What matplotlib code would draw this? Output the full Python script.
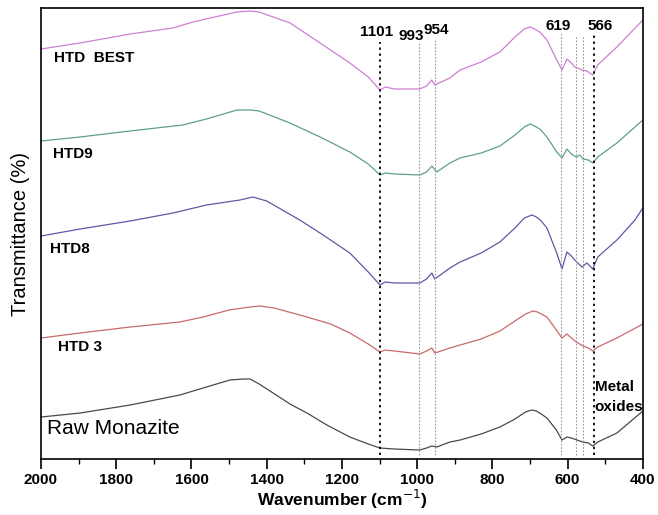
import matplotlib
matplotlib.use("Agg")
import matplotlib.pyplot as plt
from matplotlib.ticker import MultipleLocator

plt.rcParams['font.family'] = ['Liberation Sans', 'DejaVu Sans']

# FTIR spectra, arbitrary transmittance units (curves already offset)
w_best = [2000, 1896, 1763, 1649, 1596, 1479, 1444, 1420, 1338, 1258, 1179, 1130, 1099, 1085, 1060, 993, 975, 961, 953,
          913, 886, 830, 780, 740, 715, 700, 688, 674, 655, 629, 615, 602, 590, 581, 573, 562, 549, 533, 520, 469, 400]
t_best = [411, 417, 426, 432, 438, 448, 449, 448, 437, 417, 397, 383, 370, 373, 371, 371, 374, 380, 375,
          382, 390, 398, 408, 423, 431, 433, 431, 428, 420, 400, 390, 401, 397, 393, 392, 390, 389, 385, 395, 413, 440]

w_htd9 = [2000, 1896, 1763, 1623, 1560, 1479, 1444, 1420, 1338, 1258, 1179, 1130, 1099, 1085, 1060, 993, 975, 961, 948,
          913, 886, 830, 780, 740, 715, 700, 688, 674, 655, 629, 615, 602, 590, 577, 567, 559, 545, 533, 520, 469, 400]
t_htd9 = [319, 323, 329, 335, 341, 350, 350, 349, 337, 323, 308, 296, 285, 287, 286, 285, 288, 294, 288,
          297, 302, 307, 314, 325, 333, 336, 334, 331, 323, 308, 302, 311, 306, 303, 305, 301, 300, 297, 303, 317, 340]

w_htd8 = [2000, 1896, 1763, 1649, 1560, 1471, 1437, 1400, 1312, 1250, 1179, 1130, 1099, 1085, 1060, 993, 975, 961, 953,
          913, 886, 830, 780, 740, 715, 695, 683, 670, 655, 629, 615, 602, 590, 581, 573, 562, 549, 533, 520, 469, 421, 400]
t_htd8 = [224, 231, 239, 247, 255, 260, 263, 259, 240, 225, 207, 188, 175, 178, 177, 177, 181, 187, 181,
          192, 198, 207, 218, 232, 242, 245, 243, 239, 232, 207, 191, 208, 204, 200, 197, 193, 197, 191, 203, 220, 240, 252]

w_htd3 = [2000, 1896, 1763, 1631, 1569, 1500, 1444, 1418, 1380, 1293, 1230, 1179, 1130, 1099, 1086, 1060, 993, 975, 961,
          953, 913, 886, 830, 780, 740, 712, 692, 680, 665, 655, 630, 615, 602, 590, 577, 559, 545, 533, 520, 469, 400]
t_htd3 = [122, 127, 133, 138, 143, 150, 153, 154, 152, 143, 136, 127, 116, 108, 110, 109, 106, 109, 112,
          107, 112, 115, 121, 129, 139, 146, 149, 148, 145, 143, 130, 122, 126, 122, 118, 114, 112, 109, 113, 122, 136]

w_raw = [2000, 1896, 1763, 1631, 1569, 1498, 1463, 1444, 1420, 1383, 1338, 1293, 1240, 1179, 1130, 1099, 1060, 993, 975,
         961, 948, 913, 886, 830, 780, 740, 712, 695, 683, 670, 655, 630, 615, 602, 590, 575, 560, 545, 533, 520, 469, 400]
t_raw = [43, 47, 55, 65, 72, 80, 81, 81, 76, 67, 56, 47, 35, 23, 16, 12, 11, 10, 12,
         14, 13, 18, 20, 26, 33, 41, 48, 50, 49, 46, 42, 30, 20, 23, 22, 20, 18, 17, 14, 18, 27, 49]

series = [
    (w_best, t_best, "#cf7fd2"),
    (w_htd9, t_htd9, "#5f9f8f"),
    (w_htd8, t_htd8, "#5b5aa6"),
    (w_htd3, t_htd3, "#c86a6a"),
    (w_raw, t_raw, "#4a4a4a"),
]

# sample labels
sample_names = ["HTD  BEST", "HTD9", "HTD8", "HTD 3"]
sample_x = [1965, 1968, 1976, 1955]
sample_y = [402, 306, 211, 113]

# band markers
band_pos = [1098, 994, 953, 618, 578, 560, 531]
band_top = [418, 417, 420, 427, 425, 425, 425]
band_bold = [True, False, False, False, False, False, True]
peak_text = ["1101", "993", "954", "619", "566"]
peak_x = [1107, 1017, 950, 626, 514]
peak_y = [428, 424, 430, 434, 434]

fig = plt.figure(figsize=(6.58, 5.15), dpi=100)
ax = fig.add_axes([0.0623, 0.1087, 0.9147, 0.8758])

for w, t, c in series:
    ax.plot(w, t, color=c, lw=0.9)

for x, top, bold in zip(band_pos, band_top, band_bold):
    if bold:
        ax.plot([x, x], [5, top], color="black", lw=1.3, ls=(0, (1.3, 2.0)))
    else:
        ax.plot([x, x], [5, top], color="#9a9a9a", lw=0.8, ls=(0, (1.5, 1.5)))

for s, x, y in zip(peak_text, peak_x, peak_y):
    ax.text(x, y, s, fontsize=11, fontweight="bold", ha="center", va="center")

for s, x, y in zip(sample_names, sample_x, sample_y):
    ax.text(x, y, s, fontsize=11, fontweight="bold", ha="left", va="center")

ax.text(1984, 32, "Raw Monazite", fontsize=15, ha="left", va="center")
ax.text(528, 73, "Metal", fontsize=11, fontweight="bold", ha="left", va="center")
ax.text(528, 53, "oxides", fontsize=11, fontweight="bold", ha="left", va="center")

ax.set_xlim(2000, 400)
ax.set_ylim(1, 452)
ax.xaxis.set_major_locator(MultipleLocator(200))
ax.xaxis.set_minor_locator(MultipleLocator(100))
ax.tick_params(axis="x", which="major", direction="out", length=7, width=1.2, labelsize=11, pad=3)
ax.tick_params(axis="x", which="minor", direction="out", length=3.5, width=1.0)
ax.set_yticks([])
for lab in ax.get_xticklabels():
    lab.set_fontweight("bold")
for sp in ax.spines.values():
    sp.set_linewidth(1.2)

ax.set_xlabel("Wavenumber (cm$^{-1}$)", fontsize=12.5, fontweight="bold", labelpad=1)
ax.set_ylabel("Transmittance (%)", fontsize=14.5, labelpad=8)

fig.savefig("out.png", dpi=100)
